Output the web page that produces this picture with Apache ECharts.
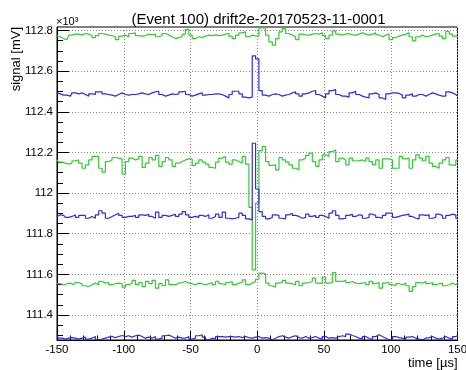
<!DOCTYPE html>
<html>
<head>
<meta charset="utf-8">
<script src="https://cdn.jsdelivr.net/npm/echarts@6.0.0/dist/echarts.min.js"></script>
<style>
  html, body { margin: 0; padding: 0; background: #fff; }
  #chart { width: 466px; height: 370px; }
</style>
</head>
<body>
<div id="chart"></div>
<script>
// Sampling grid of the digitised waveforms (µs)
const T_START = -150;
const T_STEP = 2.5;
const N_SAMPLES = 121;

// Waveforms, in units of 10^3 mV
const traceGreen1 = [
  112.772, 112.769, 112.760, 112.755, 112.777, 112.782, 112.782, 112.778, 112.785, 112.782,
  112.775, 112.765, 112.775, 112.785, 112.782, 112.777, 112.775, 112.769, 112.755, 112.772,
  112.777, 112.769, 112.785, 112.788, 112.775, 112.772, 112.775, 112.782, 112.778, 112.782,
  112.769, 112.775, 112.785, 112.778, 112.769, 112.760, 112.765, 112.769, 112.782, 112.805,
  112.777, 112.760, 112.769, 112.765, 112.772, 112.777, 112.775, 112.778, 112.775, 112.777,
  112.782, 112.785, 112.772, 112.760, 112.777, 112.788, 112.793, 112.769, 112.777, 112.773,
  112.772, 112.813, 112.814, 112.777, 112.744, 112.728, 112.760, 112.793, 112.810, 112.785,
  112.777, 112.769, 112.755, 112.782, 112.778, 112.777, 112.782, 112.785, 112.782, 112.788,
  112.775, 112.760, 112.777, 112.798, 112.782, 112.777, 112.782, 112.785, 112.778, 112.777,
  112.782, 112.788, 112.782, 112.777, 112.782, 112.788, 112.778, 112.769, 112.777, 112.782,
  112.755, 112.765, 112.772, 112.777, 112.782, 112.788, 112.769, 112.749, 112.769, 112.777,
  112.769, 112.772, 112.777, 112.782, 112.785, 112.772, 112.760, 112.795, 112.782, 112.772, 112.777
];
const traceBlue1 = [
  112.493, 112.488, 112.482, 112.482, 112.477, 112.493, 112.488, 112.493, 112.485, 112.477,
  112.488, 112.485, 112.498, 112.498, 112.488, 112.485, 112.482, 112.477, 112.485, 112.493,
  112.485, 112.482, 112.485, 112.485, 112.488, 112.493, 112.488, 112.485, 112.493, 112.498,
  112.501, 112.485, 112.477, 112.482, 112.488, 112.485, 112.488, 112.498, 112.501, 112.485,
  112.477, 112.482, 112.488, 112.493, 112.482, 112.485, 112.485, 112.488, 112.488, 112.485,
  112.477, 112.468, 112.485, 112.501, 112.501, 112.488, 112.472, 112.468, 112.472, 112.675,
  112.660, 112.504, 112.482, 112.477, 112.485, 112.488, 112.485, 112.477, 112.482, 112.485,
  112.493, 112.498, 112.488, 112.477, 112.488, 112.493, 112.501, 112.504, 112.485, 112.477,
  112.468, 112.488, 112.504, 112.509, 112.485, 112.477, 112.477, 112.472, 112.493, 112.501,
  112.485, 112.477, 112.472, 112.468, 112.488, 112.493, 112.485, 112.468, 112.460, 112.488,
  112.493, 112.493, 112.490, 112.482, 112.468, 112.482, 112.488, 112.477, 112.485, 112.485,
  112.477, 112.485, 112.493, 112.488, 112.482, 112.477, 112.477, 112.498, 112.493, 112.485, 112.477
];
const traceGreen2 = [
  112.163, 112.152, 112.147, 112.142, 112.147, 112.159, 112.163, 112.147, 112.122, 112.139,
  112.163, 112.180, 112.180, 112.122, 112.103, 112.155, 112.163, 112.175, 112.172, 112.168,
  112.093, 112.155, 112.172, 112.163, 112.168, 112.180, 112.126, 112.147, 112.175, 112.163,
  112.185, 112.131, 112.155, 112.175, 112.163, 112.131, 112.147, 112.155, 112.163, 112.168,
  112.168, 112.136, 112.147, 112.163, 112.152, 112.142, 112.126, 112.122, 112.152, 112.172,
  112.180, 112.152, 112.142, 112.163, 112.155, 112.147, 112.180, 112.142, 111.930, 111.622,
  111.950, 112.209, 112.229, 112.155, 112.136, 112.139, 112.114, 112.175, 112.163, 112.152,
  112.139, 112.122, 112.114, 112.163, 112.172, 112.185, 112.196, 112.155, 112.131, 112.163,
  112.188, 112.180, 112.204, 112.213, 112.155, 112.172, 112.163, 112.139, 112.172, 112.159,
  112.159, 112.163, 112.155, 112.172, 112.155, 112.139, 112.163, 112.122, 112.168, 112.168,
  112.163, 112.122, 112.122, 112.180, 112.168, 112.172, 112.122, 112.163, 112.188, 112.172,
  112.159, 112.180, 112.147, 112.131, 112.122, 112.147, 112.163, 112.175, 112.139, 112.136, 112.163
];
const traceBlue2 = [
  111.885, 111.893, 111.890, 111.880, 111.885, 111.893, 111.880, 111.890, 111.890, 111.876,
  111.885, 111.876, 111.893, 111.913, 111.901, 111.876, 111.885, 111.893, 111.901, 111.890,
  111.880, 111.885, 111.885, 111.890, 111.880, 111.893, 111.890, 111.896, 111.885, 111.876,
  111.906, 111.880, 111.890, 111.885, 111.890, 111.896, 111.885, 111.896, 111.909, 111.893,
  111.880, 111.885, 111.880, 111.890, 111.885, 111.893, 111.876, 111.885, 111.896, 111.880,
  111.906, 111.876, 111.873, 111.876, 111.880, 111.901, 111.890, 111.873, 111.868, 112.245,
  112.020, 111.909, 111.885, 111.873, 111.880, 111.893, 111.890, 111.876, 111.873, 111.893,
  111.901, 111.890, 111.885, 111.876, 111.880, 111.896, 111.885, 111.890, 111.880, 111.890,
  111.885, 111.876, 111.901, 111.913, 111.890, 111.873, 111.876, 111.890, 111.896, 111.885,
  111.893, 111.890, 111.876, 111.880, 111.896, 111.890, 111.880, 111.876, 111.890, 111.901,
  111.901, 111.880, 111.885, 111.890, 111.893, 111.896, 111.885, 111.876, 111.873, 111.893,
  111.890, 111.893, 111.876, 111.880, 111.896, 111.890, 111.876, 111.890, 111.896, 111.893, 111.876
];
const traceGreen3 = [
  111.554, 111.554, 111.549, 111.554, 111.557, 111.549, 111.560, 111.554, 111.544, 111.540,
  111.549, 111.557, 111.549, 111.565, 111.557, 111.560, 111.549, 111.554, 111.557, 111.554,
  111.537, 111.549, 111.557, 111.570, 111.549, 111.560, 111.540, 111.565, 111.554, 111.570,
  111.532, 111.554, 111.544, 111.573, 111.549, 111.549, 111.557, 111.560, 111.565, 111.557,
  111.554, 111.549, 111.557, 111.554, 111.549, 111.554, 111.560, 111.549, 111.565, 111.554,
  111.549, 111.560, 111.565, 111.549, 111.557, 111.560, 111.573, 111.549, 111.557, 111.565,
  111.576, 111.606, 111.603, 111.557, 111.544, 111.537, 111.557, 111.560, 111.570, 111.557,
  111.554, 111.549, 111.565, 111.544, 111.557, 111.560, 111.565, 111.581, 111.557, 111.554,
  111.586, 111.557, 111.560, 111.609, 111.565, 111.565, 111.570, 111.560, 111.565, 111.557,
  111.554, 111.557, 111.560, 111.549, 111.565, 111.554, 111.560, 111.532, 111.557, 111.560,
  111.549, 111.544, 111.554, 111.549, 111.557, 111.544, 111.516, 111.540, 111.560, 111.557,
  111.565, 111.554, 111.560, 111.549, 111.554, 111.557, 111.544, 111.549, 111.557, 111.549, 111.554
];
const traceBlue3 = [
  111.298, 111.286, 111.281, 111.286, 111.289, 111.286, 111.281, 111.286, 111.291, 111.281,
  111.286, 111.294, 111.278, 111.281, 111.286, 111.291, 111.294, 111.289, 111.294, 111.299,
  111.294, 111.298, 111.291, 111.298, 111.301, 111.294, 111.286, 111.291, 111.286, 111.294,
  111.281, 111.286, 111.298, 111.301, 111.294, 111.286, 111.291, 111.286, 111.286, 111.294,
  111.281, 111.286, 111.298, 111.303, 111.291, 111.278, 111.286, 111.281, 111.294, 111.294,
  111.291, 111.294, 111.294, 111.291, 111.294, 111.289, 111.294, 111.289, 111.286, 111.291,
  111.294, 111.286, 111.289, 111.286, 111.278, 111.286, 111.294, 111.298, 111.291, 111.286,
  111.294, 111.298, 111.289, 111.286, 111.294, 111.286, 111.289, 111.294, 111.286, 111.281,
  111.294, 111.286, 111.289, 111.286, 111.294, 111.298, 111.294, 111.306, 111.299, 111.294,
  111.286, 111.281, 111.294, 111.286, 111.278, 111.294, 111.303, 111.294, 111.286, 111.278,
  111.281, 111.294, 111.289, 111.286, 111.281, 111.291, 111.294, 111.286, 111.281, 111.278,
  111.286, 111.289, 111.294, 111.286, 111.281, 111.286, 111.294, 111.286, 111.281, 111.294, 111.298
];

// Axis ranges and tick values
const X_MIN = -150, X_MAX = 150, X_INTERVAL = 50;
const Y_MIN = 111.277, Y_MAX = 112.817;
const yMajorTicks = [111.4, 111.6, 111.8, 112, 112.2, 112.4, 112.6, 112.8];
const yMinorStart = 111.3, yMinorStep = 0.05, yMinorCount = 31;

const titleText = '(Event 100) drift2e-20170523-11-0001';
const xName = 'time [\u00b5s]';
const yName = 'signal [mV]';
const yExponent = '\u00d710\u00b3';

const GREEN = '#2fcd2f';
const BLUE = '#2b2bef';
const FONT = '"Liberation Sans", Arial, Helvetica, sans-serif';

const times = [];
for (let i = 0; i < N_SAMPLES; i++) times.push(T_START + i * T_STEP);
const yMinorTicks = [];
for (let k = 0; k < yMinorCount; k++) yMinorTicks.push(Math.round((yMinorStart + k * yMinorStep) * 1000) / 1000);

function pairs(values) {
  return values.map((v, i) => [times[i], v]);
}

const traces = [
  { data: traceGreen1, color: GREEN },
  { data: traceBlue1, color: BLUE },
  { data: traceGreen2, color: GREEN },
  { data: traceBlue2, color: BLUE },
  { data: traceGreen3, color: GREEN },
  { data: traceBlue3, color: BLUE }
];

const chart = echarts.init(document.getElementById('chart'), null, { renderer: 'canvas' });

const gridLine = { show: true, lineStyle: { color: '#8a8a8a', width: 1, type: [1, 2] } };

chart.setOption({
  animation: false,
  backgroundColor: '#ffffff',
  textStyle: { fontFamily: FONT, color: '#000' },
  grid: {
    left: 57, right: 8.5, top: 27, bottom: 30,
    containLabel: false,
    outerBoundsMode: 'none',
    show: true, borderColor: '#000', borderWidth: 1, backgroundColor: 'transparent'
  },
  xAxis: {
    type: 'value',
    min: X_MIN, max: X_MAX, interval: X_INTERVAL,
    axisLine: { show: true, onZero: false, lineStyle: { color: '#000', width: 1 } },
    axisTick: { show: true, inside: true, length: 9, lineStyle: { color: '#000' } },
    minorTick: { show: true, splitNumber: 5, length: 4.5, lineStyle: { color: '#000' } },
    axisLabel: { show: true, margin: 4, fontSize: 11.5, color: '#000', fontFamily: FONT,
                 showMinLabel: true, showMaxLabel: true, hideOverlap: false },
    splitLine: gridLine
  },
  yAxis: [
    {
      type: 'value',
      min: Y_MIN, max: Y_MAX,
      axisLine: { show: true, onZero: false, lineStyle: { color: '#000', width: 1 } },
      axisTick: { show: true, inside: true, length: 12, customValues: yMajorTicks, lineStyle: { color: '#000' } },
      minorTick: { show: false },
      axisLabel: {
        show: true, margin: 4, fontSize: 11.5, color: '#000', fontFamily: FONT,
        customValues: yMajorTicks,
        formatter: v => String(Math.round(v * 10) / 10)
      },
      splitLine: gridLine
    },
    {
      // minor ticks every 0.05 along the left edge
      type: 'value',
      min: Y_MIN, max: Y_MAX,
      position: 'left',
      axisLine: { show: false, onZero: false },
      axisTick: { show: true, inside: true, length: 6, customValues: yMinorTicks, lineStyle: { color: '#000' } },
      axisLabel: { show: false },
      splitLine: { show: false }
    }
  ],
  series: traces.map(tr => ({
    type: 'line',
    xAxisIndex: 0,
    yAxisIndex: 0,
    step: 'middle',
    showSymbol: false,
    symbol: 'none',
    data: pairs(tr.data),
    lineStyle: { color: tr.color, width: 1.2 },
    itemStyle: { color: tr.color },
    emphasis: { disabled: true },
    silent: true
  })),
  graphic: [
    {
      type: 'text', x: 258.5, y: 19.5,
      style: { text: titleText, font: '15px ' + FONT, fill: '#000', align: 'center', verticalAlign: 'middle' }
    },
    {
      type: 'text', x: 56, y: 22,
      style: { text: yExponent, font: '11px ' + FONT, fill: '#000', align: 'left', verticalAlign: 'middle' }
    },
    {
      type: 'text', x: 16, y: 27, rotation: Math.PI / 2,
      style: { text: yName, font: '13px ' + FONT, fill: '#000', align: 'right', verticalAlign: 'middle' }
    },
    {
      type: 'text', x: 457.5, y: 363,
      style: { text: xName, font: '13px ' + FONT, fill: '#000', align: 'right', verticalAlign: 'middle' }
    }
  ]
});
</script>
</body>
</html>
